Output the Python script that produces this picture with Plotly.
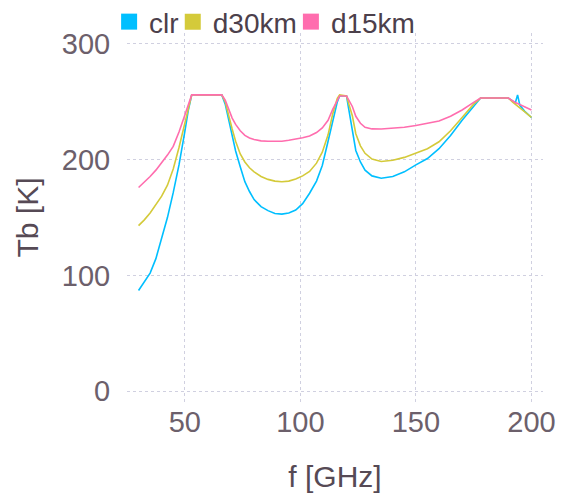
import plotly.graph_objects as go

freq = [30, 32.5, 35, 37.5, 40, 42.5, 45, 47.5, 50, 51.5, 53, 60, 66, 67.5, 69, 70.5, 72,
        74, 76, 78, 80, 83, 86, 89, 92, 95, 98, 101, 104, 107, 109.5, 112, 114, 116, 117,
        120, 121, 122.5, 124, 126, 128, 131, 135, 140, 145, 150, 155, 160, 165, 170, 175,
        178, 190, 192, 193, 194, 195, 197, 200]

clr = [87, 94, 102, 114.5, 132, 150, 171.5, 195.5, 224, 242.5, 256, 256, 256, 248, 234.5,
       221, 207.5, 194, 181, 172.5, 165.5, 159.5, 156, 153.5, 153, 154, 156.5, 162, 171,
       181.5, 195, 216, 233.5, 250, 255, 255, 243, 226, 208, 198, 191, 186, 184, 185.5,
       189.5, 195.5, 201, 209.5, 221, 234, 246.5, 253.3, 253.3, 250, 249, 256, 247, 242,
       236.5]

d30km = [143, 148, 154, 161, 168.5, 178, 192, 210.5, 232.5, 245, 256, 256, 256, 250, 237,
         226.5, 216, 205, 198, 193, 189.5, 185.5, 183, 181.5, 181, 181.5, 183.3, 186,
         189.8, 197, 206.5, 221.5, 239.5, 253, 256, 255, 248, 238, 222.5, 212, 205.5,
         200.5, 198.5, 199.5, 202, 205.5, 209.5, 215.5, 225, 236.5, 248, 253.3, 253.3,
         249.5, 248, 246.5, 245, 241.5, 236.5]

d15km = [176, 180.5, 185.5, 191, 197, 204, 211.5, 224, 238.5, 247.5, 256, 256, 256, 251.5,
         244, 236, 230.5, 225, 221, 218.8, 217.5, 216.3, 215.9, 215.8, 216, 216.8, 217.8,
         219, 220.5, 223.5, 227.5, 234, 243.5, 251.5, 255, 255, 251.5, 246, 237.5, 231.5,
         228, 226.6, 226.5, 227, 228, 229.5, 231.5, 233.5, 237.5, 243, 249.5, 253.3,
         253.3, 250.5, 249.5, 248.5, 247.5, 245.5, 243]

series_names = ["clr", "d30km", "d15km"]
series_values = [clr, d30km, d15km]
colors = ["#00BFFF", "#D4CA3A", "#FF6DAE"]

x_ticks = [50, 100, 150, 200]
y_ticks = [0, 100, 200, 300]

legend_ids = ["legend", "legend2", "legend3"]
legend_x = [-0.043, 0.110, 0.394]

fig = go.Figure()
for name, vals, col in zip(series_names, series_values, colors):
    fig.add_trace(go.Scatter(x=freq, y=vals, mode="lines", name=name,
                             line=dict(color=col, width=1.6), showlegend=False,
                             legendgroup=name))
for name, col, lid in zip(series_names, colors, legend_ids):
    fig.add_trace(go.Scatter(x=[None], y=[None], mode="markers", name=name,
                             marker=dict(symbol="square", size=16, color=col),
                             legendgroup=name, showlegend=True, legend=lid))

legend_style = dict(orientation="h", xanchor="left", y=1.03, yanchor="middle",
                    font=dict(size=28, color="#4C404B"), bgcolor="rgba(0,0,0,0)",
                    itemsizing="trace")
grid = "#D0D0E0"
fig.update_layout(
    width=561, height=499,
    margin=dict(l=127, r=18, t=33, b=97, autoexpand=False),
    paper_bgcolor="white", plot_bgcolor="white",
    font=dict(family="Liberation Sans, Arial, sans-serif", size=29, color="#6C606B"),
    showlegend=True,
    legend=dict(x=legend_x[0], **legend_style),
    legend2=dict(x=legend_x[1], **legend_style),
    legend3=dict(x=legend_x[2], **legend_style),
    xaxis=dict(range=[25, 205], tickvals=x_ticks, showgrid=True, gridcolor=grid,
               griddash="3px,3px", gridwidth=1, zeroline=False, showline=False,
               ticks="", automargin=False,
               title=dict(text="f [GHz]", font=dict(size=30, color="#564A55"), standoff=28)),
    yaxis=dict(range=[-9.4, 309.5], tickvals=y_ticks, showgrid=True, gridcolor=grid,
               griddash="3px,3px", gridwidth=1, zeroline=False, showline=False,
               ticks="outside", ticklen=10, tickcolor="rgba(0,0,0,0)", automargin=False,
               title=dict(text="Tb [K]", font=dict(size=30, color="#564A55"), standoff=14)),
)

fig.write_html("out.html", config={"displayModeBar": False},
               post_script="document.body.style.margin='0';document.body.style.overflow='hidden';")
